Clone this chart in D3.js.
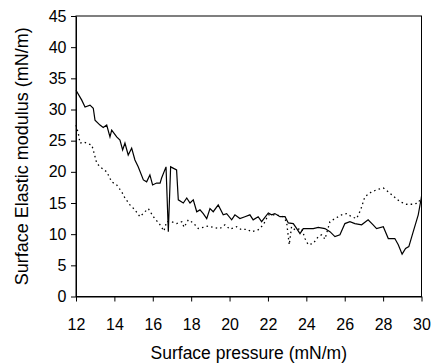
<!DOCTYPE html>
<html>
<head>
<meta charset="utf-8">
<script src="https://cdn.jsdelivr.net/npm/d3@7"></script>
<style>
  html, body { margin: 0; padding: 0; background: #fff; }
  svg { display: block; font-family: "Liberation Sans", Arial, sans-serif; }
</style>
</head>
<body>
<svg id="chart" width="439" height="364"></svg>
<script>
// Surface pressure (mN/m) vs surface elastic modulus (mN/m), two runs
const solidPressure = [12.00, 12.30, 12.47, 12.73, 12.90, 12.99, 13.25, 13.42, 13.60, 13.77, 13.86, 14.12, 14.29, 14.43, 14.55, 14.72, 14.90, 15.07, 15.24, 15.51, 15.68, 15.85, 15.99, 16.20, 16.38, 16.46, 16.69, 16.81, 16.93, 17.24, 17.33, 17.59, 17.77, 17.94, 18.11, 18.29, 18.46, 18.63, 18.81, 18.98, 19.15, 19.41, 19.67, 19.85, 20.11, 20.28, 20.54, 20.80, 21.06, 21.23, 21.49, 21.67, 22.02, 22.19, 22.36, 22.63, 22.89, 23.06, 23.32, 23.50, 23.67, 23.84, 24.10, 24.36, 24.62, 24.97, 25.23, 25.49, 25.75, 26.01, 26.27, 26.53, 26.88, 27.22, 27.48, 27.66, 28.01, 28.27, 28.61, 28.79, 28.99, 29.17, 29.34, 29.57, 29.83, 30.00];
const solidModulus = [33.1, 31.5, 30.4, 30.7, 30.2, 28.3, 27.5, 27.1, 27.5, 25.6, 26.7, 25.6, 25.1, 23.5, 24.6, 22.7, 23.8, 21.9, 20.8, 18.7, 18.4, 19.5, 17.9, 18.2, 18.2, 19.0, 20.8, 10.4, 20.8, 20.3, 15.5, 15.0, 15.8, 15.0, 15.5, 13.6, 13.9, 13.3, 12.5, 14.1, 13.6, 14.7, 13.1, 13.3, 12.3, 13.1, 12.5, 12.8, 13.1, 12.3, 12.8, 12.0, 13.4, 13.1, 13.3, 12.8, 12.8, 11.8, 11.7, 10.9, 10.1, 10.9, 10.9, 10.9, 11.1, 10.9, 10.4, 9.6, 9.9, 11.7, 12.0, 11.7, 11.5, 12.3, 11.5, 10.9, 11.2, 9.3, 9.3, 8.3, 6.8, 7.7, 8.0, 10.4, 13.1, 16.0];

const dottedPressure = [12.00, 12.12, 12.21, 12.38, 12.56, 12.82, 12.90, 13.08, 13.25, 13.60, 13.86, 14.12, 14.38, 14.55, 14.81, 15.07, 15.33, 15.59, 15.77, 16.03, 16.38, 16.58, 16.72, 16.98, 17.24, 17.51, 17.63, 17.85, 18.11, 18.37, 18.63, 18.89, 19.15, 19.50, 19.76, 20.02, 20.37, 20.63, 20.89, 21.15, 21.49, 21.76, 22.02, 22.45, 22.80, 22.97, 23.11, 23.23, 23.41, 23.76, 23.93, 24.10, 24.36, 24.62, 24.80, 24.97, 25.23, 25.49, 25.84, 26.10, 26.36, 26.62, 26.83, 27.05, 27.40, 27.74, 28.01, 28.27, 28.53, 28.88, 29.22, 29.57, 29.83, 30.00];
const dottedModulus = [27.5, 26.2, 24.6, 24.8, 24.6, 24.3, 23.5, 21.4, 20.8, 20.0, 18.4, 17.9, 16.8, 15.8, 14.7, 13.9, 12.8, 13.6, 14.1, 12.8, 11.5, 10.5, 12.0, 12.0, 11.7, 12.0, 11.1, 12.3, 11.8, 10.9, 11.1, 11.3, 11.1, 10.9, 11.5, 10.8, 11.2, 10.7, 10.8, 10.4, 10.7, 11.5, 13.1, 13.1, 12.8, 12.0, 8.3, 11.2, 10.7, 10.9, 9.3, 8.3, 8.5, 9.6, 9.9, 9.2, 12.0, 12.5, 13.1, 13.3, 12.8, 12.5, 13.9, 16.0, 16.8, 17.2, 17.4, 16.8, 16.1, 15.2, 14.8, 14.8, 15.0, 16.0];

const xTicks = [12, 14, 16, 18, 20, 22, 24, 26, 28, 30];
const yTicks = [0, 5, 10, 15, 20, 25, 30, 35, 40, 45];
const xTitle = "Surface pressure (mN/m)";
const yTitle = "Surface Elastic modulus (mN/m)";

const svg = d3.select("#chart");
const plotLeft = 76, plotRight = 421.5, plotTop = 16, plotBottom = 296.5;

const x = d3.scaleLinear().domain([12, 30]).range([plotLeft, plotRight]);
const y = d3.scaleLinear().domain([0, 45]).range([plotBottom, plotTop]);

// plot frame
svg.append("rect")
  .attr("x", plotLeft).attr("y", plotTop)
  .attr("width", plotRight - plotLeft).attr("height", plotBottom - plotTop)
  .attr("fill", "none").attr("stroke", "#000").attr("stroke-width", 1);

// x axis
const gx = svg.append("g")
  .attr("transform", `translate(0,${plotBottom})`)
  .call(d3.axisBottom(x).tickValues(xTicks).tickSize(5).tickSizeOuter(0).tickPadding(17.5).tickFormat(d3.format("d")));
gx.selectAll("text").attr("font-size", 16).attr("fill", "#000")
  .attr("font-family", "Liberation Sans, Arial, sans-serif");

// y axis
const gy = svg.append("g")
  .attr("transform", `translate(${plotLeft},0)`)
  .call(d3.axisLeft(y).tickValues(yTicks).tickSize(5).tickSizeOuter(0).tickPadding(4.5).tickFormat(d3.format("d")));
gy.selectAll("text").attr("font-size", 16).attr("fill", "#000")
  .attr("font-family", "Liberation Sans, Arial, sans-serif");

[gx, gy].forEach(g => {
  g.select(".domain").attr("stroke", "#000");
  g.selectAll(".tick line").attr("stroke", "#000");
});

// series
const line = d3.line().x(d => x(d[0])).y(d => y(d[1]));
const solid = solidPressure.map((p, i) => [p, solidModulus[i]]);
const dotted = dottedPressure.map((p, i) => [p, dottedModulus[i]]);

svg.append("path").datum(dotted)
  .attr("d", line).attr("fill", "none")
  .attr("stroke", "#000").attr("stroke-width", 1.3)
  .attr("stroke-dasharray", "1.5 3.2");

svg.append("path").datum(solid)
  .attr("d", line).attr("fill", "none")
  .attr("stroke", "#000").attr("stroke-width", 1.2)
  .attr("stroke-linejoin", "miter");

// axis titles
svg.append("text")
  .attr("x", (plotLeft + plotRight) / 2).attr("y", 359)
  .attr("text-anchor", "middle").attr("font-size", 17.5).attr("fill", "#000")
  .text(xTitle);

svg.append("text")
  .attr("transform", `translate(28,${(plotTop + plotBottom) / 2}) rotate(-90)`)
  .attr("text-anchor", "middle").attr("font-size", 18).attr("fill", "#000")
  .text(yTitle);
</script>
</body>
</html>
